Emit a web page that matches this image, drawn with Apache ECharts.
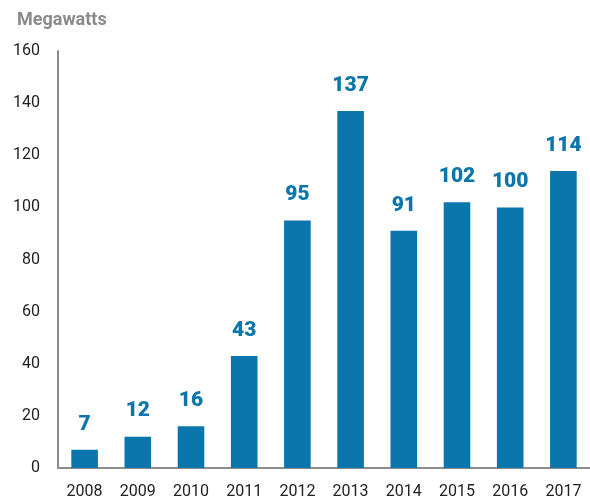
<!DOCTYPE html>
<html><head><meta charset="utf-8">
<script src="https://cdn.jsdelivr.net/npm/echarts@6/dist/echarts.min.js"></script>
<style>html,body{margin:0;padding:0;background:#fff}#c{width:590px;height:502px}</style>
</head><body><div id="c"></div>
<script>
const years = ['2008','2009','2010','2011','2012','2013','2014','2015','2016','2017'];
const megawatts = [7,12,16,43,95,137,91,102,100,114];
const yTicks = {min:0, max:160, interval:20};
const chart = echarts.init(document.getElementById('c'));
chart.setOption({
  animation:false,
  title:{text:'Megawatts', left:12, top:6, textStyle:{fontFamily:'Roboto, sans-serif', fontWeight:'bold', fontSize:18, color:'#8a8a8a'}},
  grid:{left:58, top:51, width:535, bottom:34, containLabel:false},
  xAxis:{type:'category', data:years,
    axisLine:{lineStyle:{color:'#8c8c8c', width:2}}, axisTick:{show:false},
    axisLabel:{fontFamily:'Roboto, sans-serif', fontSize:16, color:'#222', margin:16}},
  yAxis:{type:'value', min:yTicks.min, max:yTicks.max, interval:yTicks.interval,
    axisLine:{show:true, lineStyle:{color:'#8c8c8c', width:2}}, axisTick:{show:false}, splitLine:{show:false},
    axisLabel:{fontFamily:'Roboto, sans-serif', fontSize:16, color:'#222', margin:18}},
  series:[{type:'bar', data:megawatts, barWidth:'50%', itemStyle:{color:'#0b76ab'},
    label:{show:true, position:'top', distance:15, color:'#0b76ab', fontFamily:'Roboto, sans-serif', fontWeight:900, fontSize:21}}]
});
</script></body></html>
